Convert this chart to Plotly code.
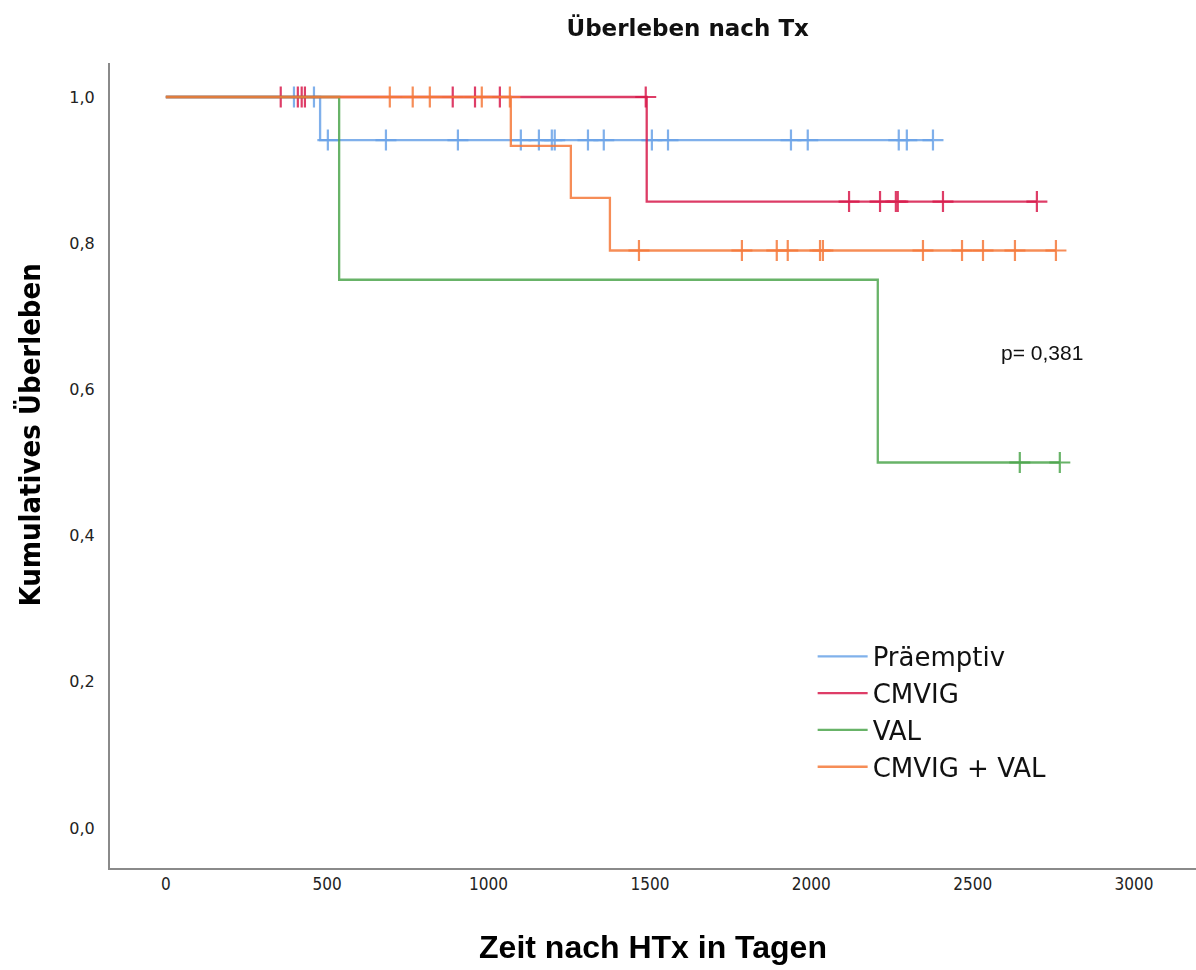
import plotly.graph_objects as go

# ---- data ----
groups = ["Präemptiv", "CMVIG", "VAL", "CMVIG + VAL"]
colors = ["#6AA3E8", "#D81B4C", "#4EA64E", "#F5793A"]

# event times (days) and survival level after each event
praemptiv_event_t = [478]
praemptiv_event_s = [0.941]
praemptiv_censor_t = [397, 459, 502, 682, 905, 1100, 1156, 1196, 1205, 1308, 1357,
                      1506, 1556, 1937, 1989, 2271, 2296, 2377]

cmvig_event_t = [1490]
cmvig_event_s = [0.857]
cmvig_censor_t = [356, 409, 421, 431, 889, 958, 1035, 1487,
                  2117, 2213, 2262, 2268, 2408, 2699]

val_event_t = [537, 2206]
val_event_s = [0.75, 0.50]
val_censor_t = [2646, 2770]

combo_event_t = [1069, 1255, 1376]
combo_event_s = [0.933, 0.862, 0.790]
combo_censor_t = [694, 765, 818, 979, 1066, 1466, 1785, 1893, 1927, 2027, 2036,
                  2346, 2467, 2532, 2631, 2758]

x_ticks = [0, 500, 1000, 1500, 2000, 2500, 3000]
y_ticks = [0.0, 0.2, 0.4, 0.6, 0.8, 1.0]

series = [
    (praemptiv_event_t, praemptiv_event_s, praemptiv_censor_t),
    (cmvig_event_t, cmvig_event_s, cmvig_censor_t),
    (val_event_t, val_event_s, val_censor_t),
    (combo_event_t, combo_event_s, combo_censor_t),
]


def surv_at(t, ev_t, ev_s):
    s = 1.0
    for et, es in zip(ev_t, ev_s):
        if et <= t:
            s = es
    return s


fig = go.Figure()
for name, col, (ev_t, ev_s, c_t) in zip(groups, colors, series):
    end_t = max(ev_t + c_t)
    xs = [0] + ev_t + [end_t]
    ys = [1.0] + ev_s + [ev_s[-1]]
    fig.add_trace(go.Scatter(
        x=xs, y=ys, mode="lines", line=dict(color=col, width=2.3, shape="hv"),
        opacity=0.85, name=name, showlegend=True))
    cy = [surv_at(t, ev_t, ev_s) for t in c_t]
    fig.add_trace(go.Scatter(
        x=c_t, y=cy, mode="markers", showlegend=False, opacity=0.85,
        marker=dict(symbol="cross-thin", size=15, line=dict(color=col, width=2.2))))

fig.add_annotation(x=2715, y=0.65, xref="x", yref="y", text="p= 0,381",
                   showarrow=False, font=dict(family="Liberation Sans, Arial", size=21, color="#111"))

# y-axis title placed as annotation to match the reference's vertical position
fig.add_annotation(x=30, xref="paper", xanchor="center", y=0.538, yref="paper",
                   yanchor="middle", text="<b>Kumulatives Überleben</b>", textangle=-90,
                   showarrow=False,
                   font=dict(family="DejaVu Sans Condensed, DejaVu Sans", size=29, color="#000"))

fig.update_layout(
    width=1196, height=970,
    margin=dict(l=110, r=0, t=63, b=102),
    plot_bgcolor="white", paper_bgcolor="white",
    separators=",.",
    title=dict(text="<b>Überleben nach Tx</b>", x=0.575, xanchor="center",
               y=0.971, yanchor="middle",
               font=dict(family="DejaVu Sans", size=23, color="#111")),
    legend=dict(x=0.647, y=0.292, xanchor="left", yanchor="top",
                font=dict(family="DejaVu Sans", size=26, color="#111"),
                bgcolor="rgba(0,0,0,0)", itemwidth=50, tracegroupgap=0),
    showlegend=True,
)
fig.layout.annotations[1].update(x=-0.074)
fig.update_xaxes(range=[-173, 3192], tickvals=x_ticks, ticks="", showgrid=False,
                 zeroline=False, showline=True, linecolor="#8a8a8a", linewidth=2,
                 tickfont=dict(family="DejaVu Sans Condensed, DejaVu Sans", size=17, color="#222"),
                 title=dict(text="<b>Zeit nach HTx in Tagen</b>", standoff=42,
                            font=dict(family="Liberation Sans Narrow, Liberation Sans", size=32, color="#000")))
fig.update_yaxes(range=[-0.0547, 1.0465], tickvals=y_ticks, tickformat=".1f", ticks="",
                 showgrid=False, zeroline=False, showline=True, linecolor="#8a8a8a",
                 linewidth=2, ticklabelstandoff=10,
                 tickfont=dict(family="DejaVu Sans", size=16, color="#222"))

fig.write_html("out.html")
